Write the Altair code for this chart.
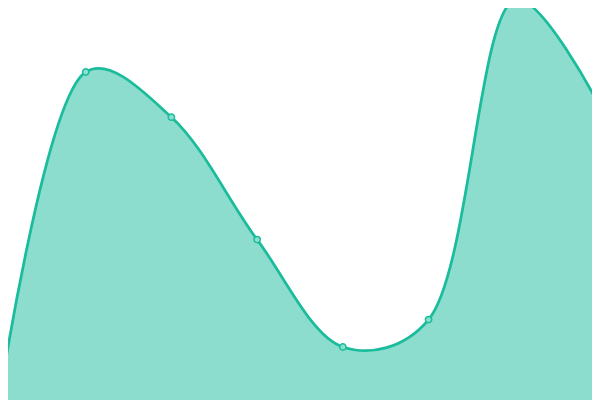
import altair as alt
import pandas as pd

xs = [0, 1, 2, 3, 4, 5, 6, 7]
values = [1, 82, 70.7, 40.1, 13.25, 20.1, 100, 73.25]

df = pd.DataFrame({"x": xs, "v": values})

# page has an 8px margin and the svg is held to the body width:
# shift the domains so the drawing lines up with the full 600x400 frame
step = 600 / 7
xenc = alt.X("x:Q", scale=alt.Scale(domain=[8 / step, 592 / step], nice=False, zero=False), axis=None)
yenc = alt.Y("v:Q", scale=alt.Scale(domain=[0, 98], nice=False, zero=False), axis=None)

base = alt.Chart(df).encode(x=xenc, y=yenc)

area = base.mark_area(interpolate="catmull-rom", tension=0.4, color="#1abc9c", opacity=0.5, clip=True)
line = base.mark_line(interpolate="catmull-rom", tension=0.4, color="#1abc9c", strokeWidth=2.75, clip=True)
pts = base.mark_point(filled=True, fill="#8ae0cf", stroke="#1abc9c", strokeWidth=1.5, size=40, opacity=1, clip=True)

chart = (area + line + pts).properties(
    width=584, height=392, padding=0, autosize=alt.AutoSizeParams(type="none")
).configure_view(stroke=None)

chart.save("out.html", embed_options={"renderer": "svg", "actions": False})
